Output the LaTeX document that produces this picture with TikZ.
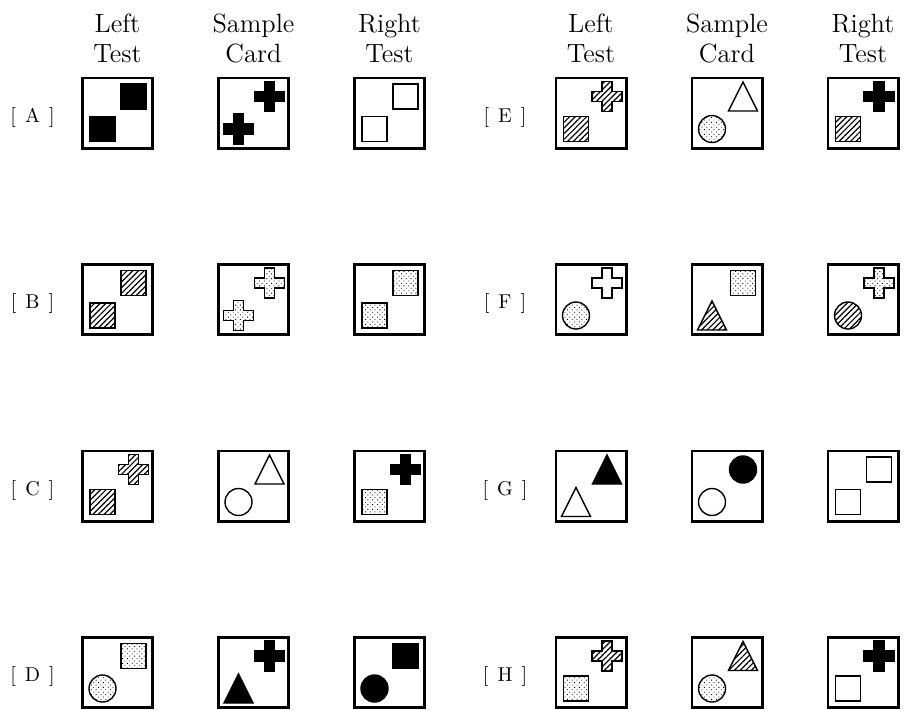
\documentclass[tikz,border=0pt]{standalone}
\usepackage{tikz}
\usetikzlibrary{patterns.meta}

\begin{document}
\begin{tikzpicture}[
        x=0.5pt, y=-0.5pt,
        card/.style={draw=black, line width=1.3pt, minimum size=35.2pt, inner sep=0pt},
        head/.style={anchor=south, align=center, inner sep=0pt, font=\fontsize{13.2}{15}\selectfont},
        tag/.style={inner sep=0pt, font=\fontsize{10}{12}\selectfont},
        shape line/.style={draw=black, line width=0.7pt},
        blk/.style={fill=black},
        blank/.style={fill=white},
        hatch/.style={pattern={Lines[angle=45, distance=2pt, line width=0.6pt]}},
        dotty/.style={pattern={Dots[angle=45, distance=1.7pt, radius=0.3pt]}},
        ur/.style={shift={(16,-16.5)}},
        ll/.style={shift={(-15,16)}},
        sqr/.pic={\path[shape line, #1] (-12.5,-12.5) rectangle (12.5,12.5);},
        disc/.pic={\path[shape line, #1] (0,0) circle[radius=13.5];},
        tri/.pic={\path[shape line, #1] (0,-14.5) -- (14.5,14.5) -- (-14.5,14.5) -- cycle;},
        plus/.pic={\path[shape line, #1] (-5,-15) -- (5,-15) -- (5,-5) -- (15,-5) -- (15,5) -- (5,5)
            -- (5,15) -- (-5,15) -- (-5,5) -- (-15,5) -- (-15,-5) -- (-5,-5) -- cycle;}
    ]
        \useasboundingbox (0,0) rectangle (904,709);

        % Column Headings
        \node[head] (lefthead) at (117.5,63) {Left\\Test};
        \node[head] (samplehead) at (253.5,63) {Sample\\Card};
        \node[head] (righthead) at (389.5,63) {Right\\Test};
        \node[head] (lefthead2) at (591,63) {Left\\Test};
        \node[head] (samplehead2) at (727,63) {Sample\\Card};
        \node[head] (righthead2) at (863,63) {Right\\Test};

        % Row A
        \node[tag] (taga) at (32.5,117) {[\hspace{4.5pt}A\hspace{4.5pt}]};
        \node[card] (aleft) at (117.5,113) {};
        \node[card] (asample) at (253.5,113) {};
        \node[card] (aright) at (389.5,113) {};
        \pic[ur] at (aleft) {sqr=blk};
        \pic[ll] at (aleft) {sqr=blk};
        \pic[ur] at (asample) {plus=blk};
        \pic[ll] at (asample) {plus=blk};
        \pic[ur] at (aright) {sqr=blank};
        \pic[ll] at (aright) {sqr=blank};

        % Row E
        \node[tag] (tage) at (505,117) {[\hspace{4.5pt}E\hspace{4.5pt}]};
        \node[card] (eleft) at (591,113) {};
        \node[card] (esample) at (727,113) {};
        \node[card] (eright) at (863,113) {};
        \pic[ur] at (eleft) {plus=hatch};
        \pic[ll] at (eleft) {sqr=hatch};
        \pic[ur] at (esample) {tri=blank};
        \pic[ll] at (esample) {disc=dotty};
        \pic[ur] at (eright) {plus=blk};
        \pic[ll] at (eright) {sqr=hatch};

        % Row B
        \node[tag] (tagb) at (32.5,303.5) {[\hspace{4.5pt}B\hspace{4.5pt}]};
        \node[card] (bleft) at (117.5,299.5) {};
        \node[card] (bsample) at (253.5,299.5) {};
        \node[card] (bright) at (389.5,299.5) {};
        \pic[ur] at (bleft) {sqr=hatch};
        \pic[ll] at (bleft) {sqr=hatch};
        \pic[ur] at (bsample) {plus=dotty};
        \pic[ll] at (bsample) {plus=dotty};
        \pic[ur] at (bright) {sqr=dotty};
        \pic[ll] at (bright) {sqr=dotty};

        % Row F
        \node[tag] (tagf) at (505,303.5) {[\hspace{4.5pt}F\hspace{4.5pt}]};
        \node[card] (fleft) at (591,299.5) {};
        \node[card] (fsample) at (727,299.5) {};
        \node[card] (fright) at (863,299.5) {};
        \pic[ur] at (fleft) {plus=blank};
        \pic[ll] at (fleft) {disc=dotty};
        \pic[ur] at (fsample) {sqr=dotty};
        \pic[ll] at (fsample) {tri=hatch};
        \pic[ur] at (fright) {plus=dotty};
        \pic[ll] at (fright) {disc=hatch};

        % Row C
        \node[tag] (tagc) at (32.5,490) {[\hspace{4.5pt}C\hspace{4.5pt}]};
        \node[card] (cleft) at (117.5,486) {};
        \node[card] (csample) at (253.5,486) {};
        \node[card] (cright) at (389.5,486) {};
        \pic[ur] at (cleft) {plus=hatch};
        \pic[ll] at (cleft) {sqr=hatch};
        \pic[ur] at (csample) {tri=blank};
        \pic[ll] at (csample) {disc=blank};
        \pic[ur] at (cright) {plus=blk};
        \pic[ll] at (cright) {sqr=dotty};

        % Row G
        \node[tag] (tagg) at (505,490) {[\hspace{4.5pt}G\hspace{4.5pt}]};
        \node[card] (gleft) at (591,486) {};
        \node[card] (gsample) at (727,486) {};
        \node[card] (gright) at (863,486) {};
        \pic[ur] at (gleft) {tri=blk};
        \pic[ll] at (gleft) {tri=blank};
        \pic[ur] at (gsample) {disc=blk};
        \pic[ll] at (gsample) {disc=blank};
        \pic[ur] at (gright) {sqr=blank};
        \pic[ll] at (gright) {sqr=blank};

        % Row D
        \node[tag] (tagd) at (32.5,676.5) {[\hspace{4.5pt}D\hspace{4.5pt}]};
        \node[card] (dleft) at (117.5,672.5) {};
        \node[card] (dsample) at (253.5,672.5) {};
        \node[card] (dright) at (389.5,672.5) {};
        \pic[ur] at (dleft) {sqr=dotty};
        \pic[ll] at (dleft) {disc=dotty};
        \pic[ur] at (dsample) {plus=blk};
        \pic[ll] at (dsample) {tri=blk};
        \pic[ur] at (dright) {sqr=blk};
        \pic[ll] at (dright) {disc=blk};

        % Row H
        \node[tag] (tagh) at (505,676.5) {[\hspace{4.5pt}H\hspace{4.5pt}]};
        \node[card] (hleft) at (591,672.5) {};
        \node[card] (hsample) at (727,672.5) {};
        \node[card] (hright) at (863,672.5) {};
        \pic[ur] at (hleft) {plus=hatch};
        \pic[ll] at (hleft) {sqr=dotty};
        \pic[ur] at (hsample) {tri=hatch};
        \pic[ll] at (hsample) {disc=dotty};
        \pic[ur] at (hright) {plus=blk};
        \pic[ll] at (hright) {sqr=blank};
    \end{tikzpicture}
\end{document}
